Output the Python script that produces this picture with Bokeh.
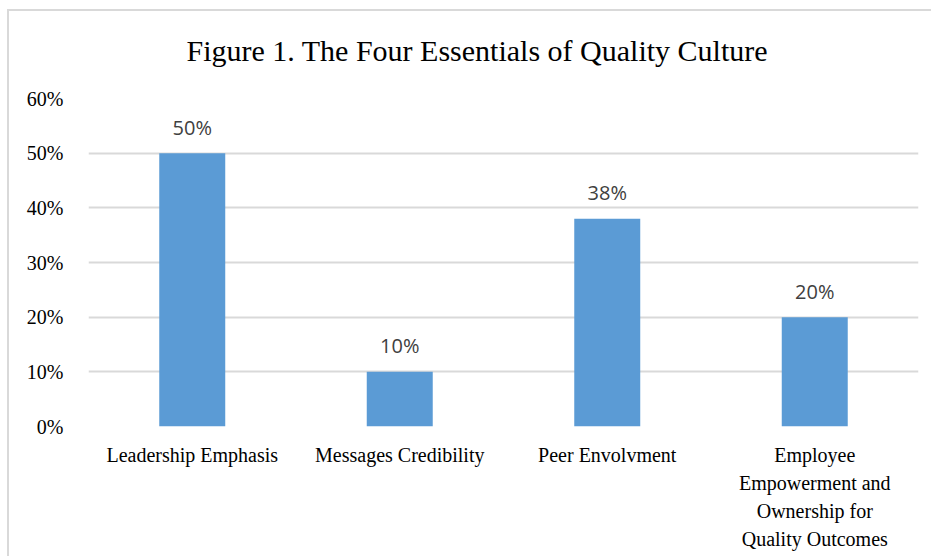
from bokeh.plotting import figure
from bokeh.layouts import column
from bokeh.models import ColumnDataSource, LabelSet, Title, NumeralTickFormatter, FixedTicker, Range1d
from bokeh.core.properties import value
from bokeh.embed import file_html
from bokeh.resources import INLINE

title_text = "Figure 1. The Four Essentials of Quality Culture"
categories = ["Leadership Emphasis", "Messages Credibility", "Peer Envolvment",
              "Employee\nEmpowerment and\nOwnership for\nQuality Outcomes"]
values = [0.50, 0.10, 0.38, 0.20]
value_labels = ["50%", "10%", "38%", "20%"]
y_ticks = [0, 0.1, 0.2, 0.3, 0.4, 0.5, 0.6]

src = ColumnDataSource(dict(cat=categories, val=values, lab=value_labels))

p = figure(x_range=categories, y_range=Range1d(0, 0.6), width=922, height=545,
           output_backend="svg", toolbar_location=None,
           min_border_left=79, min_border_right=13, min_border_top=0, min_border_bottom=130)
p.outline_line_color = None
p.background_fill_color = "white"
p.border_fill_color = "white"

p.vbar(x="cat", top="val", width=0.318, source=src, color="#5b9bd5", line_color=None)

p.xgrid.grid_line_color = None
p.ygrid.grid_line_color = "#d9d9d9"
p.ygrid.grid_line_width = 2
p.yaxis.ticker = FixedTicker(ticks=y_ticks)
p.yaxis.formatter = NumeralTickFormatter(format="0%")
for ax in (p.xaxis[0], p.yaxis[0]):
    ax.axis_line_color = None
    ax.major_tick_line_color = None
    ax.minor_tick_line_color = None
    ax.major_label_text_font = "Liberation Serif"
    ax.major_label_text_font_size = "20px"
    ax.major_label_text_color = "black"
p.yaxis.major_label_standoff = 19
p.xaxis.major_label_standoff = 11
p.xaxis.major_label_text_line_height = 1.28
p.xaxis.major_label_orientation = "horizontal"

labels = LabelSet(x="cat", y="val", text="lab", source=src, y_offset=26,
                  text_align="center", text_baseline="middle",
                  text_font=value("Open Sans"), text_font_size=value("20px"),
                  text_color="#404040")
p.add_layout(labels)

# main title (outermost) and a thin spacer between it and the frame
p.title.text = title_text
p.title.align = "left"
p.title.offset = 98
p.title.standoff = 42
p.title.vertical_align = "middle"
p.title.text_font = "Liberation Serif"
p.title.text_font_size = "30px"
p.title.text_font_style = "normal"
p.title.text_color = "black"
spacer = Title(text=" ", text_font_size="1px", standoff=7)
p.add_layout(spacer, "above")

root = column(p, styles={"margin-left": "7px", "margin-top": "9px",
                         "border-left": "2px solid #d9d9d9",
                         "border-top": "2px solid #d9d9d9"})

open("out.html", "w").write(file_html(root, INLINE))
